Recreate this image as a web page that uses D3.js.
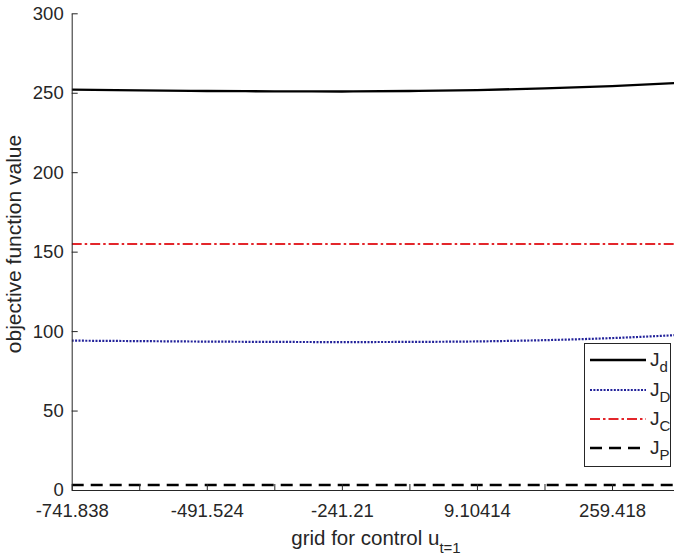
<!DOCTYPE html>
<html>
<head>
<meta charset="utf-8">
<script src="https://cdn.jsdelivr.net/npm/d3@7"></script>
<style>
  html, body { margin: 0; padding: 0; background: #fff; }
  svg { display: block; }
  text { font-family: "Liberation Sans", Arial, Helvetica, sans-serif; fill: #262626; }
</style>
</head>
<body>
<svg id="chart" width="674" height="555"></svg>
<script>
// grid of control values u_{t=1}
const gridU = [-741.838, -616.681, -491.524, -366.367, -241.21, -116.053, 9.10414, 134.261, 259.418, 384.575];

// objective function values along the grid
const Jd = [252.0, 251.5, 251.1, 250.9, 250.8, 251.1, 251.7, 252.7, 254.2, 256.2];
const JD = [94.0, 93.7, 93.4, 93.2, 93.1, 93.2, 93.5, 94.3, 95.6, 97.6];
const JC = [154.8, 154.8, 154.8, 154.8, 154.8, 154.8, 154.8, 154.8, 154.8, 154.8];
const JP = [3.1, 3.1, 3.1, 3.1, 3.1, 3.1, 3.1, 3.1, 3.1, 3.1];

// axis ticks
const xTicks = [-741.838, -616.681, -491.524, -366.367, -241.21, -116.053, 9.10414, 134.261, 259.418];
const xTickLabels = ["-741.838", "", "-491.524", "", "-241.21", "", "9.10414", "", "259.418"];
const yTicks = [0, 50, 100, 150, 200, 250, 300];

const series = [
  { name: "d", values: Jd, color: "#000000", width: 2.3, dash: null },
  { name: "D", values: JD, color: "#22229a", width: 2.2, dash: "2,1.4" },
  { name: "C", values: JC, color: "#e3262b", width: 2.2, dash: "10,3,2.5,3" },
  { name: "P", values: JP, color: "#000000", width: 2.4, dash: "12,7" }
];

const svg = d3.select("#chart");
const plotLeft = 71.7, plotTop = 13.3, plotBottom = 490;

const x = d3.scaleLinear().domain([-741.838, 384.575]).range([plotLeft, plotLeft + 1126.413 * 0.53965]);
const y = d3.scaleLinear().domain([0, 300]).range([plotBottom, plotTop]);

// lines, clipped to the plot area
svg.append("clipPath").attr("id", "plotclip")
  .append("rect").attr("x", plotLeft).attr("y", 0).attr("width", 674 - plotLeft).attr("height", plotBottom);

const line = d3.line().x((d, i) => x(gridU[i])).y(d => y(d)).curve(d3.curveMonotoneX);

const gLines = svg.append("g").attr("clip-path", "url(#plotclip)");
series.forEach(s => {
  gLines.append("path")
    .attr("d", line(s.values))
    .attr("fill", "none")
    .attr("stroke", s.color)
    .attr("stroke-width", s.width)
    .attr("stroke-dasharray", s.dash);
});

// axes
const xAxis = d3.axisBottom(x).tickValues(xTicks)
  .tickFormat((d, i) => xTickLabels[i]).tickSizeInner(-6).tickSizeOuter(0).tickPadding(14);
const gx = svg.append("g").attr("transform", `translate(0,${plotBottom})`).call(xAxis);
gx.select(".domain").attr("stroke", "#262626");
gx.selectAll(".tick line").attr("stroke", "#262626");
gx.selectAll("text").style("font-size", "18.5px").attr("fill", "#262626");

const yAxis = d3.axisLeft(y).tickValues(yTicks).tickSizeInner(-6).tickSizeOuter(0).tickPadding(8);
const gy = svg.append("g").attr("transform", `translate(${plotLeft},0)`).call(yAxis);
gy.select(".domain").attr("stroke", "#262626");
gy.selectAll(".tick line").attr("stroke", "#262626");
gy.selectAll("text").style("font-size", "18.5px").attr("fill", "#262626");

// axis labels
svg.append("text")
  .attr("transform", `translate(21,244) rotate(-90)`)
  .attr("text-anchor", "middle")
  .style("font-size", "21px")
  .text("objective function value");

const xl = svg.append("text")
  .attr("x", 376).attr("y", 545)
  .attr("text-anchor", "middle")
  .style("font-size", "20.5px");
xl.append("tspan").text("grid for control u");
xl.append("tspan").attr("dy", 8).style("font-size", "15px").text("t=1");

// legend
const lg = svg.append("g");
lg.append("rect")
  .attr("x", 584.5).attr("y", 343.5).attr("width", 86).attr("height", 123)
  .attr("fill", "#fff").attr("stroke", "#262626").attr("stroke-width", 1);
const legendY = [360, 390, 419, 448];
series.forEach((s, i) => {
  lg.append("line")
    .attr("x1", 590).attr("x2", 646)
    .attr("y1", legendY[i]).attr("y2", legendY[i])
    .attr("stroke", s.color).attr("stroke-width", s.width)
    .attr("stroke-dasharray", s.dash);
  const t = lg.append("text").attr("x", 650).attr("y", legendY[i] + 6).style("font-size", "19px");
  t.append("tspan").text("J");
  t.append("tspan").attr("dy", 6).style("font-size", "15px").text(s.name);
});
</script>
</body>
</html>
